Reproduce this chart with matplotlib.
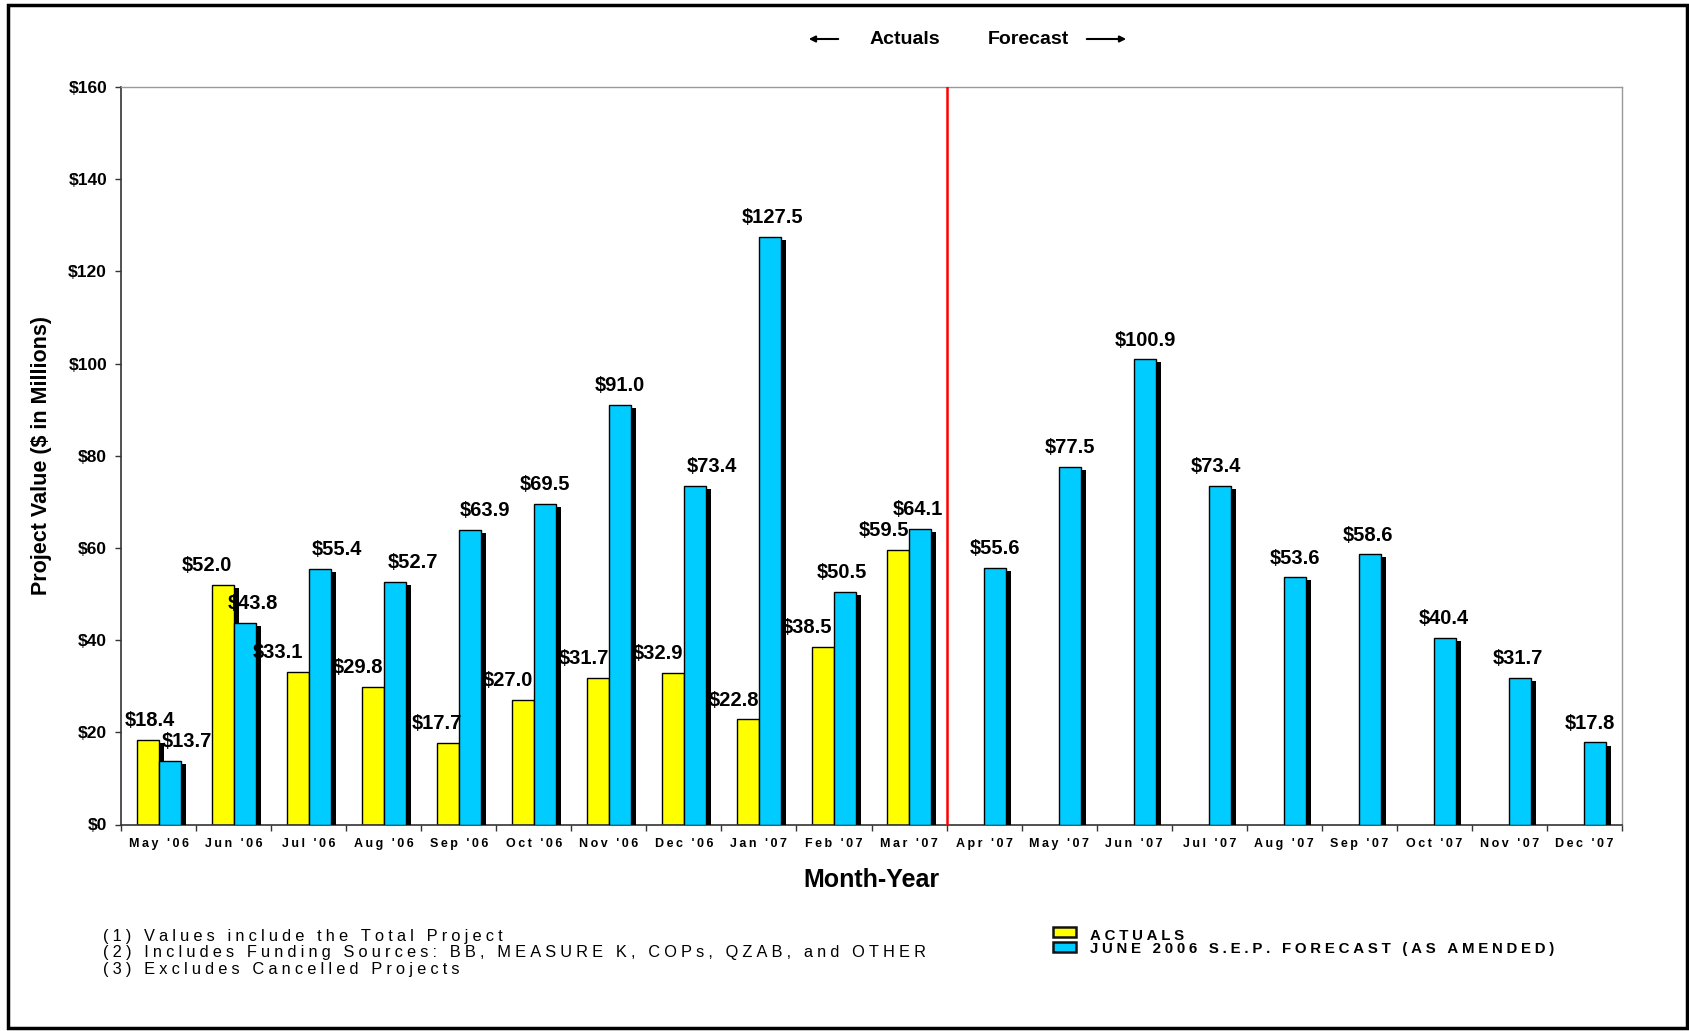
import numpy as np
import matplotlib
matplotlib.use("Agg")
import matplotlib.pyplot as plt
import matplotlib.patheffects as pe
from matplotlib.patches import Rectangle, FancyArrowPatch

plt.rcParams['font.family'] = ['Liberation Sans', 'DejaVu Sans']

# data
months = ["May '06", "Jun '06", "Jul '06", "Aug '06", "Sep '06", "Oct '06", "Nov '06",
          "Dec '06", "Jan '07", "Feb '07", "Mar '07", "Apr '07", "May '07", "Jun '07",
          "Jul '07", "Aug '07", "Sep '07", "Oct '07", "Nov '07", "Dec '07"]
actuals = [18.4, 52.0, 33.1, 29.8, 17.7, 27.0, 31.7, 32.9, 22.8, 38.5, 59.5]
forecast = [13.7, 43.8, 55.4, 52.7, 63.9, 69.5, 91.0, 73.4, 127.5, 50.5, 64.1,
            55.6, 77.5, 100.9, 73.4, 53.6, 58.6, 40.4, 31.7, 17.8]
yticks = [0, 20, 40, 60, 80, 100, 120, 140, 160]
notes = ["(1) Values include the Total Project",
         "(2) Includes Funding Sources: BB, MEASURE K, COPs, QZAB, and OTHER",
         "(3) Excludes Cancelled Projects"]
series_names = ["ACTUALS", "JUNE 2006 S.E.P. FORECAST (AS AMENDED)"]

# label nudges in pixels (labels were hand-placed in the original)
nudge_a = [2, -16, -20, -15, -11, -15, -14, -15, -14, -16, -14]
nudge_f = [17, 8, 17, 18, 15, 0, 0, 17, 3, -3, -2, 0, 0, 0, -4, 0, -2, -2, -3, -6]


def track(s, sp):
    # wide letter spacing like the original print
    return sp.join(s)


W, H = 1690, 1031
fig = plt.figure(figsize=(W / 100, H / 100), dpi=100)
ax = fig.add_axes([121 / W, 1 - 824.5 / H, (1622 - 121) / W, (824.5 - 87) / H])

yellow = '#FFFF00'
cyan = '#00CCFF'
bw = 0.293
shadow = [pe.SimplePatchShadow(offset=(3.6, -2.2), shadow_rgbFace='black', alpha=1.0), pe.Normal()]

xa = np.arange(len(actuals)) + 0.5 - bw / 2
xf = np.arange(len(forecast)) + 0.5 + bw / 2
ba = ax.bar(xa, actuals, width=bw, color=yellow, edgecolor='black', linewidth=1.0, zorder=2)
bf = ax.bar(xf, forecast, width=bw, color=cyan, edgecolor='black', linewidth=1.0, zorder=3)
for b in list(ba) + list(bf):
    b.set_path_effects(shadow)

for i, v in enumerate(actuals):
    ax.annotate("$%.1f" % v, (xa[i], v), xytext=(nudge_a[i] * 0.72, 10), textcoords='offset points',
                ha='center', va='baseline', fontsize=14.5, fontweight='bold', zorder=5)
for i, v in enumerate(forecast):
    ax.annotate("$%.1f" % v, (xf[i], v), xytext=(nudge_f[i] * 0.72, 10), textcoords='offset points',
                ha='center', va='baseline', fontsize=14.5, fontweight='bold', zorder=5)

ax.axvline(len(actuals), color='#FF0000', linewidth=1.8, zorder=4)

ax.set_xlim(0, len(months))
ax.set_ylim(0, 160)
ax.set_yticks(yticks)
ax.set_yticklabels(["$%d" % t for t in yticks], fontsize=12.5, fontweight='bold')
ax.set_xticks(np.arange(len(months)) + 0.5)
ax.set_xticklabels([track(m, '\u2009') for m in months], fontsize=9.0, fontweight='bold')
ax.set_xticks(np.arange(len(months) + 1), minor=True)
ax.tick_params(axis='x', which='major', length=0, pad=10)
ax.tick_params(axis='x', which='minor', length=4, width=1, color='#333333')
ax.tick_params(axis='y', length=4, width=1, color='#333333', pad=6)
for s in ['top', 'right']:
    ax.spines[s].set_color('#999999')
    ax.spines[s].set_linewidth(1)
for s in ['left', 'bottom']:
    ax.spines[s].set_color('#333333')
    ax.spines[s].set_linewidth(1.2)

ax.set_xlabel("Month-Year", fontsize=18, fontweight='bold', labelpad=13)
ax.set_ylabel("Project Value ($ in Millions)", fontsize=15.5, fontweight='bold', labelpad=12)

# header
fig.text(905 / W, 1 - 39 / H, "Actuals", ha='center', va='center', fontsize=14, fontweight='bold')
fig.text(1028 / W, 1 - 39 / H, "Forecast", ha='center', va='center', fontsize=14, fontweight='bold')
fig.add_artist(FancyArrowPatch((841 / W, 1 - 39 / H), (806 / W, 1 - 39 / H), transform=fig.transFigure,
                               arrowstyle='-|>', mutation_scale=9, linewidth=1.5, color='black'))
fig.add_artist(FancyArrowPatch((1084 / W, 1 - 39 / H), (1129 / W, 1 - 39 / H), transform=fig.transFigure,
                               arrowstyle='-|>', mutation_scale=9, linewidth=1.5, color='black'))

# footnotes
for k, n in enumerate(notes):
    fig.text(103 / W, 1 - (936 + 16.8 * k) / H, track(n, '\u2005'), ha='left', va='center', fontsize=11.8)

# legend
for name, c, yb, yt in zip(series_names, [yellow, cyan], [932, 947], [936, 948.5]):
    fig.add_artist(Rectangle((1053 / W, 1 - (yb + 5) / H), 23 / W, 10 / H, transform=fig.transFigure,
                             facecolor=c, edgecolor='#111111', linewidth=1.8))
    fig.text(1090 / W, 1 - yt / H, track(name, '\u2005'), ha='left', va='center', fontsize=10.8,
             fontweight='bold')

# outer frame
fig.add_artist(Rectangle((8 / W, 3 / H), (1687 - 8) / W, (1026 - 3) / H, transform=fig.transFigure,
                         fill=False, edgecolor='black', linewidth=2.5))

fig.savefig("out.png", dpi=100)
